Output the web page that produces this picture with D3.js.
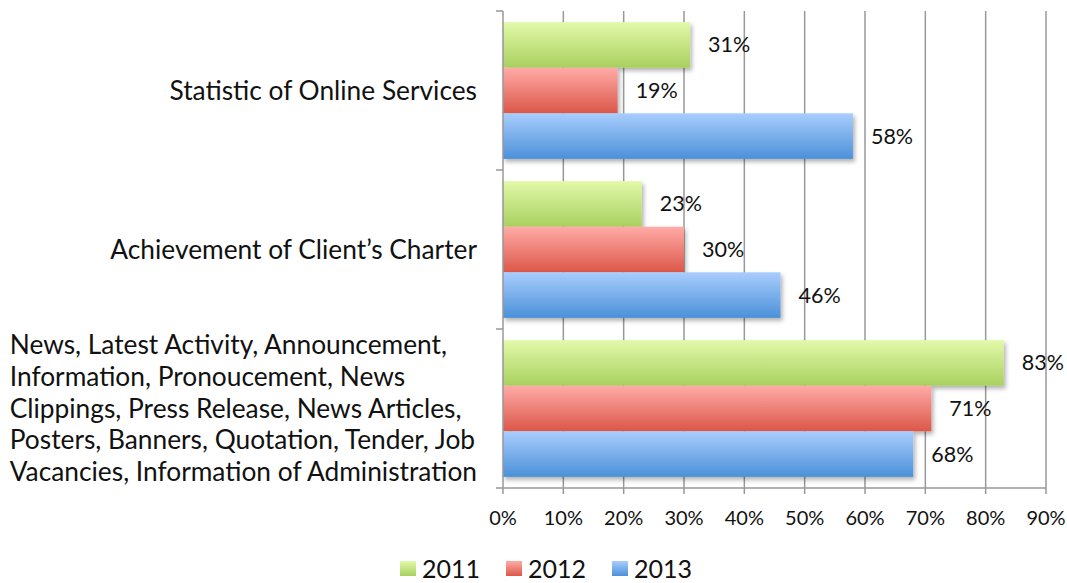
<!DOCTYPE html>
<html>
<head>
<meta charset="utf-8">
<script src="https://cdn.jsdelivr.net/npm/d3@7"></script>
<style>
  body { margin: 0; background: #fff; }
  svg text { font-family: Lato, "Noto Sans", sans-serif; fill: #111; }
</style>
</head>
<body>
<svg id="chart" width="1067" height="583"></svg>
<script>
// data
var categories = [
  "Statistic of Online Services",
  "Achievement of Client\u2019s Charter",
  "News, Latest Activity, Announcement,\nInformation, Pronoucement, News\nClippings, Press Release, News Articles,\nPosters, Banners, Quotation, Tender, Job\nVacancies, Information of Administration"
];
var years = ["2011", "2012", "2013"];
var values2011 = [31, 23, 83];
var values2012 = [19, 30, 71];
var values2013 = [58, 46, 68];
var tickValues = [0, 10, 20, 30, 40, 50, 60, 70, 80, 90];

var series = [values2011, values2012, values2013];
var colors = [
  ["#e2f9aa", "#a9d05f"],
  ["#ffaba7", "#dc5749"],
  ["#a9cdfd", "#4b91d9"]
];

var svg = d3.select("#chart");
var plotLeft = 503, plotRight = 1046, plotTop = 11, plotBottom = 488;

var x = d3.scaleLinear().domain([0, 90]).range([plotLeft, plotRight]);
var y0 = d3.scaleBand().domain(d3.range(categories.length)).range([plotTop, plotBottom]).paddingInner(0.14).paddingOuter(0.07);
var y1 = d3.scaleBand().domain(d3.range(years.length)).range([0, y0.bandwidth()]);

// gradients + shadow
var defs = svg.append("defs");
colors.forEach(function(c, i) {
  var g = defs.append("linearGradient").attr("id", "grad" + i)
    .attr("x1", 0).attr("y1", 0).attr("x2", 0).attr("y2", 1);
  g.append("stop").attr("offset", "0%").attr("stop-color", c[0]);
  g.append("stop").attr("offset", "100%").attr("stop-color", c[1]);
});
defs.append("filter").attr("id", "shadow").attr("x", "-5%").attr("y", "-20%").attr("width", "115%").attr("height", "160%")
  .append("feDropShadow").attr("dx", 2).attr("dy", 3).attr("stdDeviation", 2).attr("flood-color", "#000").attr("flood-opacity", 0.3);

// gridlines
svg.append("g").selectAll("line").data(tickValues.slice(1)).enter().append("line")
  .attr("x1", function(d) { return x(d); }).attr("x2", function(d) { return x(d); })
  .attr("y1", plotTop).attr("y2", plotBottom + 6)
  .attr("stroke", "#999").attr("stroke-width", 1.5);

// bars
var groups = svg.append("g").selectAll("g").data(categories).enter().append("g")
  .attr("transform", function(d, i) { return "translate(0," + y0(i) + ")"; });

groups.each(function(cat, ci) {
  var g = d3.select(this);
  series.forEach(function(vals, si) {
    g.append("rect")
      .attr("x", x(0))
      .attr("y", y1(si))
      .attr("width", x(vals[ci]) - x(0))
      .attr("height", y1.bandwidth())
      .attr("fill", "url(#grad" + si + ")")
      .attr("filter", "url(#shadow)");
    g.append("text")
      .attr("x", x(vals[ci]) + 18)
      .attr("y", y1(si) + y1.bandwidth() / 2)
      .attr("dy", "0.35em")
      .attr("font-size", 21.5)
      .text(vals[ci] + "%");
  });
});

// axes lines
var yBounds = [plotTop].concat(d3.range(1, categories.length).map(function(i) {
  return (y0(i - 1) + y0.bandwidth() + y0(i)) / 2;
})).concat([plotBottom]);

svg.append("line").attr("x1", plotLeft).attr("x2", plotLeft).attr("y1", plotTop).attr("y2", plotBottom + 6)
  .attr("stroke", "#999").attr("stroke-width", 1.5);
svg.append("g").selectAll("line").data(yBounds).enter().append("line")
  .attr("x1", plotLeft - 7).attr("x2", plotLeft)
  .attr("y1", function(d) { return d; }).attr("y2", function(d) { return d; })
  .attr("stroke", "#999").attr("stroke-width", 1.5);
svg.append("line").attr("x1", plotLeft).attr("x2", plotRight).attr("y1", plotBottom).attr("y2", plotBottom)
  .attr("stroke", "#999").attr("stroke-width", 1.5);

// x tick labels
svg.append("g").selectAll("text").data(tickValues).enter().append("text")
  .attr("x", function(d) { return x(d); })
  .attr("y", 518)
  .attr("dy", "0.35em")
  .attr("text-anchor", "middle")
  .attr("font-size", 20)
  .text(function(d) { return d + "%"; });

// category labels - block left aligned, block right edge at 477
svg.append("g").selectAll("text").data(categories).enter().append("text")
  .attr("text-anchor", "start")
  .attr("font-size", 26.3)
  .each(function(d, i) {
    var lines = d.split("\n");
    var lh = 31.7;
    var cy = y0(i) + y0.bandwidth() / 2;
    var t = d3.select(this);
    var spans = lines.map(function(line, li) {
      return t.append("tspan")
        .attr("y", cy + (li - (lines.length - 1) / 2) * lh)
        .attr("dy", "0.35em")
        .text(line);
    });
    var maxW = d3.max(spans, function(s) { return s.node().getComputedTextLength(); });
    spans.forEach(function(s) { s.attr("x", 477 - maxW); });
  });

// legend
var legendX = [400, 506, 612];
var legend = svg.append("g").selectAll("g").data(years).enter().append("g")
  .attr("transform", function(d, i) { return "translate(" + legendX[i] + ",561)"; });
legend.append("rect").attr("width", 16).attr("height", 15)
  .attr("fill", function(d, i) { return "url(#grad" + i + ")"; });
legend.append("text").attr("x", 22).attr("y", 8).attr("dy", "0.36em")
  .attr("font-size", 25).text(function(d) { return d; });
</script>
</body>
</html>
